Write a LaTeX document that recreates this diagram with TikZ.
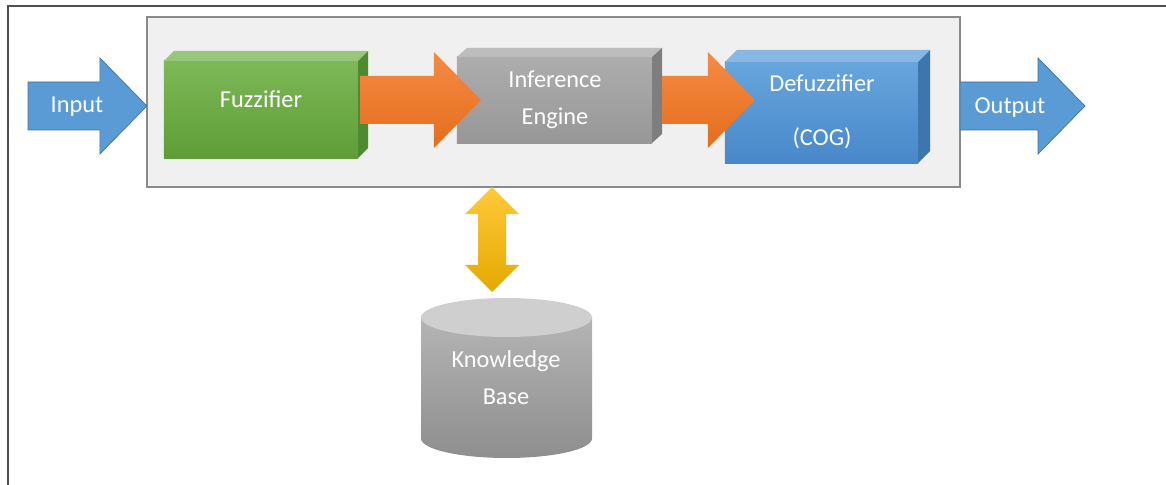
\documentclass[tikz,border=0pt]{standalone}
\usepackage{fontspec}
\setmainfont{Carlito}
\usetikzlibrary{calc}

\definecolor{framegray}{HTML}{505050}
\definecolor{panelfill}{HTML}{F0F0F0}
\definecolor{paneledge}{HTML}{8A8A8A}
\definecolor{fuzlight}{HTML}{7DB957}
\definecolor{fuzdark}{HTML}{5E9D37}
\definecolor{fuztop}{HTML}{98C77B}
\definecolor{fuzside}{HTML}{4F8A30}
\definecolor{inflight}{HTML}{ADADAD}
\definecolor{infdark}{HTML}{979797}
\definecolor{inftop}{HTML}{BDBDBD}
\definecolor{infside}{HTML}{7E7E7E}
\definecolor{dfzlight}{HTML}{67A5DD}
\definecolor{dfzdark}{HTML}{4888CA}
\definecolor{dfztop}{HTML}{88B7E4}
\definecolor{dfzside}{HTML}{3D76AD}
\definecolor{arrowblue}{HTML}{5B9BD5}
\definecolor{arrowedge}{HTML}{41719C}
\definecolor{orangelight}{HTML}{F58B45}
\definecolor{orangedark}{HTML}{E56D1B}
\definecolor{yellowlight}{HTML}{FFC93A}
\definecolor{yellowdark}{HTML}{E4A900}
\definecolor{kblight}{HTML}{B4B4B4}
\definecolor{kbdark}{HTML}{8E8E8E}
\definecolor{kbtop}{HTML}{CFCFCF}

\tikzset{
  cubefront/.style={rectangle, inner sep=0pt, outer sep=0pt},
  boxtext/.style={text=white, font=\fontsize{17.3}{26.2}\selectfont, align=center, inner sep=0pt},
  fatarrow/.style={to path={
    ($(\tikztostart)+(0,-24)$) -- ($(\tikztotarget)+(-47,-24)$) -- ($(\tikztotarget)+(-47,-48)$)
    -- (\tikztotarget) -- ($(\tikztotarget)+(-47,48)$) -- ($(\tikztotarget)+(-47,24)$)
    -- ($(\tikztostart)+(0,24)$) -- cycle}},
  dblarrow/.style={to path={
    (\tikztostart) -- ($(\tikztostart)+(27,27)$) -- ($(\tikztostart)+(14,27)$)
    -- ($(\tikztotarget)+(14,-27)$) -- ($(\tikztotarget)+(27,-27)$) -- (\tikztotarget)
    -- ($(\tikztotarget)+(-27,-27)$) -- ($(\tikztotarget)+(-14,-27)$)
    -- ($(\tikztostart)+(-14,27)$) -- ($(\tikztostart)+(-27,27)$) -- cycle}},
}

\begin{document}
\begin{tikzpicture}[x=0.025cm,y=-0.025cm]
\useasboundingbox (0,0) rectangle (1166,485);

	% frame of the page
	\draw[framegray, line width=1.4pt] (8,485) -- (8,6) -- (1166,6);

	\node (panel)[fill=panelfill, draw=paneledge, line width=1.1pt, outer sep=0pt, minimum width=20.325cm, minimum height=4.25cm] at (553.5,102) {};

	\node (fuz)[cubefront, top color=fuzlight, bottom color=fuzdark, minimum width=4.85cm, minimum height=2.425cm] at (261,109.5) {};
	\node (inf)[cubefront, top color=inflight, bottom color=infdark, minimum width=4.875cm, minimum height=2.15cm] at (554.5,100) {};
	\node (dfz)[cubefront, top color=dfzlight, bottom color=dfzdark, minimum width=4.825cm, minimum height=2.525cm] at (821.5,112.5) {};

	\fill[fuztop] (fuz.north west) -- ++(10,-10) -- ($(fuz.north east)+(10,-10)$) -- (fuz.north east) -- cycle;
	\fill[fuzside] (fuz.north east) -- ++(10,-10) -- ($(fuz.south east)+(10,-10)$) -- (fuz.south east) -- cycle;
	\fill[inftop] (inf.north west) -- ++(10,-9) -- ($(inf.north east)+(10,-9)$) -- (inf.north east) -- cycle;
	\fill[infside] (inf.north east) -- ++(10,-9) -- ($(inf.south east)+(10,-9)$) -- (inf.south east) -- cycle;
	\fill[dfztop] (dfz.north west) -- ++(12,-12) -- ($(dfz.north east)+(12,-12)$) -- (dfz.north east) -- cycle;
	\fill[dfzside] (dfz.north east) -- ++(12,-12) -- ($(dfz.south east)+(12,-12)$) -- (dfz.south east) -- cycle;

	\node (fuztext)[boxtext] at (261,99.5) {Fuzzifier};
	\node (inftext)[boxtext] at (555,100) {Inference\\Engine};
	\node (dfztext)[boxtext] at (822,112) {Defuzzifier\\[12pt](COG)};

	% knowledge base cylinder
	\shade[top color=kblight, bottom color=kbdark] (421,317.5) -- (421,438.5) arc[start angle=180, end angle=0, x radius=85.5, y radius=19.5] -- (592,317.5) -- cycle;
	\fill[kbtop] (506.5,317.5) ellipse[x radius=85.5, y radius=19.5];
	\node (kb)[boxtext] at (506,378) {Knowledge\\Base};

	\coordinate (inbeg) at (28,106);
	\coordinate (inend) at (inbeg -| panel.west);
	\coordinate (outend) at (1085,106);
	\coordinate (outbeg) at (panel.east |- outend);
	\coordinate (f2ibeg) at ($(fuz.east |- inf.center)+(2,0)$);
	\coordinate (f2iend) at ($(inf.west)+(24,0)$);
	\coordinate (i2dbeg) at ($(inf.east)+(10,0)$);
	\coordinate (i2dend) at ($(inf.center -| dfz.west)+(30,0)$);
	\coordinate (kbtip) at (492,292);
	\coordinate (kbup) at (panel.south -| kbtip);

	\draw [fatarrow, fill=arrowblue, draw=arrowedge, line width=0.5pt] (inbeg) to (inend);
	\draw [fatarrow, fill=arrowblue, draw=arrowedge, line width=0.5pt] (outbeg) to (outend);
	\shade [fatarrow, top color=orangelight, bottom color=orangedark] (f2ibeg) to (f2iend);
	\shade [fatarrow, top color=orangelight, bottom color=orangedark] (i2dbeg) to (i2dend);
	\shade [dblarrow, top color=yellowlight, bottom color=yellowdark] (kbup) to (kbtip);

	\node (intext)[boxtext] at (77,107) {Input};
	\node (outtext)[boxtext] at (1010,108) {Output};

\end{tikzpicture}
\end{document}
